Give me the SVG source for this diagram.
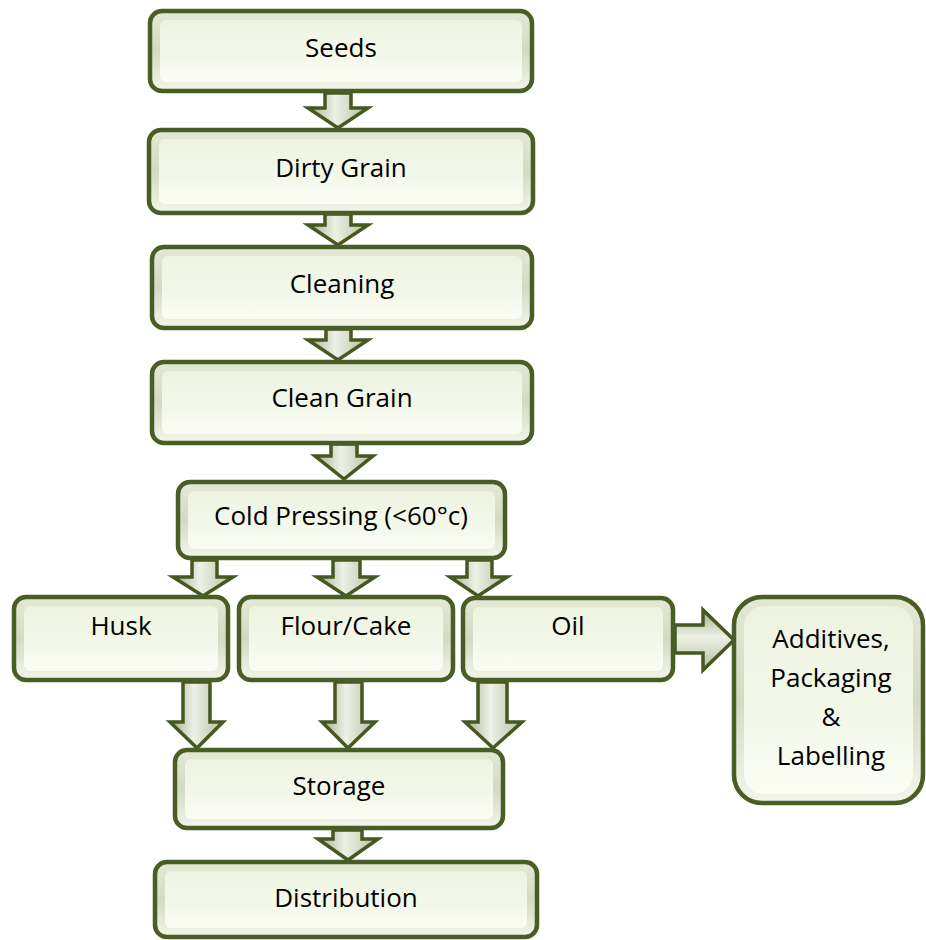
<svg xmlns="http://www.w3.org/2000/svg" width="926" height="940" viewBox="0 0 926 940">
<defs>
<linearGradient id="bevel" x1="0" y1="0" x2="0" y2="1">
<stop offset="0" stop-color="#e4e9d6"/>
<stop offset="0.5" stop-color="#d3dac3"/>
<stop offset="1" stop-color="#f3f6ea"/>
</linearGradient>
<linearGradient id="face" x1="0" y1="0" x2="0" y2="1">
<stop offset="0" stop-color="#eef3e1"/>
<stop offset="0.6" stop-color="#f4f8ea"/>
<stop offset="1" stop-color="#fbfdf5"/>
</linearGradient>
<linearGradient id="arrV" x1="0" y1="0" x2="1" y2="0">
<stop offset="0" stop-color="#a3ae8e"/>
<stop offset="0.45" stop-color="#eef1e6"/>
<stop offset="1" stop-color="#b4be9f"/>
</linearGradient>
<linearGradient id="arrH" x1="0" y1="0" x2="0" y2="1">
<stop offset="0" stop-color="#a3ae8e"/>
<stop offset="0.45" stop-color="#eef1e6"/>
<stop offset="1" stop-color="#b4be9f"/>
</linearGradient>
</defs>
<style>
.outer{fill:url(#bevel);stroke:none}
.inner{fill:url(#face);stroke:none}
.edge{fill:none;stroke:#4a5d24;stroke-width:4.5}
.lbl{font-family:"Open Sans","Liberation Sans",sans-serif;font-size:26px;fill:#000;text-anchor:middle}
.av{fill:url(#arrV);stroke:#465820;stroke-width:3.5;stroke-linejoin:miter}
.ah{fill:url(#arrH);stroke:#465820;stroke-width:3.5;stroke-linejoin:miter}
</style>
<rect width="926" height="940" fill="#ffffff"/>

<g id="connectors">
<path class="av" d="M325,93 H351 V108 H368 L338,128 L308,108 H325 Z"/>
<path class="av" d="M325,214 H351 V225 H368 L338,245 L308,225 H325 Z"/>
<path class="av" d="M326,329 H351 V340 H368 L338,360 L308,340 H326 Z"/>
<path class="av" d="M331,444 H357 V456 H373 L344,479 L315,456 H331 Z"/>
<path class="av" d="M192,560 H217 V577 H233 L203,596 L173,577 H192 Z"/>
<path class="av" d="M333,560 H360 V577 H375 L346,596 L317,577 H333 Z"/>
<path class="av" d="M467,560 H492 V577 H507 L478,596 L450,577 H467 Z"/>
<path class="av" d="M183,682 H210 V722 H223 L197,748 L170,722 H183 Z"/>
<path class="av" d="M335,682 H362 V722 H375 L348,748 L322,722 H335 Z"/>
<path class="av" d="M478,682 H507 V722 H522 L493,748 L465,722 H478 Z"/>
<path class="av" d="M333,830 H362 V839 H378 L348,860 L318,839 H333 Z"/>
<path class="ah" d="M675,625 V653 H703 V670 L734,640 L703,610 V625 Z"/>
</g>

<g id="seeds">
<rect class="outer" x="150" y="11" width="382" height="80" rx="12"/>
<rect class="inner" x="160" y="20" width="362" height="62" rx="6"/>
<rect class="edge" x="150" y="11" width="382" height="80" rx="12"/>
<text class="lbl" x="341" y="57">Seeds</text>
</g>

<g id="dirty-grain">
<rect class="outer" x="149" y="130" width="384" height="83" rx="12"/>
<rect class="inner" x="159" y="139" width="364" height="65" rx="6"/>
<rect class="edge" x="149" y="130" width="384" height="83" rx="12"/>
<text class="lbl" x="341" y="177">Dirty Grain</text>
</g>

<g id="cleaning">
<rect class="outer" x="152" y="247" width="380" height="81" rx="12"/>
<rect class="inner" x="162" y="256" width="360" height="63" rx="6"/>
<rect class="edge" x="152" y="247" width="380" height="81" rx="12"/>
<text class="lbl" x="342" y="293">Cleaning</text>
</g>

<g id="clean-grain">
<rect class="outer" x="152" y="362" width="380" height="81" rx="12"/>
<rect class="inner" x="162" y="371" width="360" height="63" rx="6"/>
<rect class="edge" x="152" y="362" width="380" height="81" rx="12"/>
<text class="lbl" x="342" y="407">Clean Grain</text>
</g>

<g id="cold-pressing">
<rect class="outer" x="178" y="482" width="327" height="76" rx="12"/>
<rect class="inner" x="188" y="491" width="307" height="58" rx="6"/>
<rect class="edge" x="178" y="482" width="327" height="76" rx="12"/>
<text class="lbl" x="341" y="525">Cold Pressing (&lt;60°c)</text>
</g>

<g id="husk">
<rect class="outer" x="14" y="597" width="214" height="83" rx="12"/>
<rect class="inner" x="24" y="606" width="194" height="65" rx="6"/>
<rect class="edge" x="14" y="597" width="214" height="83" rx="12"/>
<text class="lbl" x="121" y="635">Husk</text>
</g>

<g id="flour-cake">
<rect class="outer" x="239" y="597" width="214" height="83" rx="12"/>
<rect class="inner" x="249" y="606" width="194" height="65" rx="6"/>
<rect class="edge" x="239" y="597" width="214" height="83" rx="12"/>
<text class="lbl" x="346" y="635">Flour/Cake</text>
</g>

<g id="oil">
<rect class="outer" x="463" y="598" width="210" height="82" rx="12"/>
<rect class="inner" x="473" y="607" width="190" height="64" rx="6"/>
<rect class="edge" x="463" y="598" width="210" height="82" rx="12"/>
<text class="lbl" x="568" y="635">Oil</text>
</g>

<g id="additives">
<rect class="outer" x="734" y="597" width="189" height="206" rx="28"/>
<rect class="inner" x="744" y="606" width="169" height="188" rx="20"/>
<rect class="edge" x="734" y="597" width="189" height="206" rx="28"/>
<text class="lbl" x="831" y="648">Additives,</text>
<text class="lbl" x="831" y="687">Packaging</text>
<text class="lbl" x="831" y="726">&amp;</text>
<text class="lbl" x="831" y="765">Labelling</text>
</g>

<g id="storage">
<rect class="outer" x="175" y="750" width="328" height="78" rx="12"/>
<rect class="inner" x="185" y="759" width="308" height="60" rx="6"/>
<rect class="edge" x="175" y="750" width="328" height="78" rx="12"/>
<text class="lbl" x="339" y="795">Storage</text>
</g>

<g id="distribution">
<rect class="outer" x="155" y="862" width="382" height="75" rx="12"/>
<rect class="inner" x="165" y="871" width="362" height="57" rx="6"/>
<rect class="edge" x="155" y="862" width="382" height="75" rx="12"/>
<text class="lbl" x="346" y="907">Distribution</text>
</g>
</svg>
